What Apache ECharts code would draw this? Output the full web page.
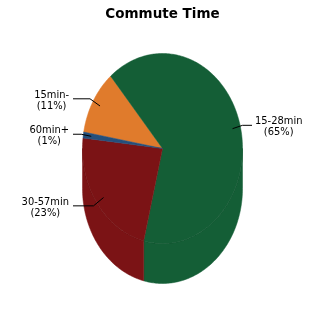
<!DOCTYPE html>
<html><head><meta charset="utf-8">
<script src="https://cdn.jsdelivr.net/npm/echarts@6/dist/echarts.min.js"></script>
<style>html,body{margin:0;padding:0;background:#fff}#c{width:325px;height:325px}</style>
</head><body><div id="c"></div>
<script>
// ---- data ----
const titleText = 'Commute Time';
const categories = ['15min-', '15-28min', '30-57min', '60min+'];
const values = [11, 65, 23, 1];
const colors = ['#e07b2c', '#145e36', '#7b1315', '#244f7b'];

// ---- geometry / style ----
const CX = 162.5, CY = 148.5, RX = 80, RY = 95, DEPTH = 40, START = 280;
const FONT = '"DejaVu Sans Condensed", "DejaVu Sans", sans-serif';
const LABEL_SIZE = 11;

const total = values.reduce((a, b) => a + b, 0);
const spans = [];
let acc = START;
values.forEach(v => { const s = acc; acc += v / total * 360; spans.push([s, acc]); });

function pt(a, dy) {
  const r = a * Math.PI / 180;
  return [CX + RX * Math.sin(r), CY - RY * Math.cos(r) + (dy || 0)];
}
function arcPts(a1, a2, dy) {
  const pts = [];
  const n = Math.max(2, Math.ceil(Math.abs(a2 - a1)));
  for (let k = 0; k <= n; k++) pts.push(pt(a1 + (a2 - a1) * k / n, dy));
  return pts;
}
const ctx = document.createElement('canvas').getContext('2d');
function tw(t) { ctx.font = LABEL_SIZE + 'px ' + FONT; return ctx.measureText(t).width; }

function sideItem(params, api) {
  const i = params.dataIndex;
  const [a1, a2] = spans[i];
  const children = [];
  [[90, 270], [450, 630], [810, 990]].forEach(([f1, f2]) => {
    const b1 = Math.max(a1, f1), b2 = Math.min(a2, f2);
    if (b2 > b1) {
      const top = arcPts(b1, b2, 0);
      const bot = arcPts(b2, b1, DEPTH);
      children.push({ type: 'polygon', shape: { points: top.concat(bot) },
        style: { fill: colors[i], stroke: colors[i], lineWidth: 0.5 } });
      children.push({ type: 'polyline', shape: { points: top },
        style: { stroke: 'rgba(0,0,0,0.18)', lineWidth: 1, fill: null }, z2: 5 });
    }
  });
  return { type: 'group', children };
}

function topItem(params, api) {
  const i = params.dataIndex;
  const [a1, a2] = spans[i];
  const pts = [[CX, CY]].concat(arcPts(a1, a2, 0));
  const children = [{ type: 'polygon', shape: { points: pts },
    style: { fill: colors[i], stroke: colors[i], lineWidth: 0.5 } }];
  const mid = (a1 + a2) / 2;
  const r = mid * Math.PI / 180;
  const s = Math.sin(r), c = Math.cos(r);
  const anchor = [CX + 0.9 * RX * s, CY - 0.9 * RY * c];
  const ey = CY - c * 100;
  const right = s > 0;
  const elbowX = right ? anchor[0] + 10 : anchor[0] - 10;
  const lineX = right ? 252 : 73;
  children.push({ type: 'polyline', shape: { points: [anchor, [elbowX, ey], [lineX, ey]] },
    style: { stroke: '#000', lineWidth: 1, fill: null }, z2: 10 });
  const l1 = categories[i];
  const l2 = '(' + Math.round(values[i] / total * 100) + '%)';
  const w = Math.max(tw(l1), tw(l2));
  const bx = right ? 255 + w / 2 : 69 - w / 2;
  children.push({ type: 'text', x: bx, y: ey + 1.5, z2: 10,
    style: { text: l1 + '\n' + l2, align: 'center', verticalAlign: 'middle',
      font: LABEL_SIZE + 'px ' + FONT, fill: '#000', lineHeight: 11 } });
  return { type: 'group', children };
}

const chart = echarts.init(document.getElementById('c'), null, { renderer: 'canvas' });
chart.setOption({
  animation: false,
  backgroundColor: '#fff',
  title: { text: titleText, left: 'center', top: 2,
    textStyle: { fontFamily: '"DejaVu Sans", sans-serif', fontSize: 13.5, fontWeight: 'bold', color: '#000' } },
  series: [
    { type: 'custom', coordinateSystem: 'none', renderItem: sideItem, data: values, z: 1, silent: true },
    { type: 'custom', coordinateSystem: 'none', renderItem: topItem, data: values, z: 2, silent: true }
  ]
});
</script></body></html>
